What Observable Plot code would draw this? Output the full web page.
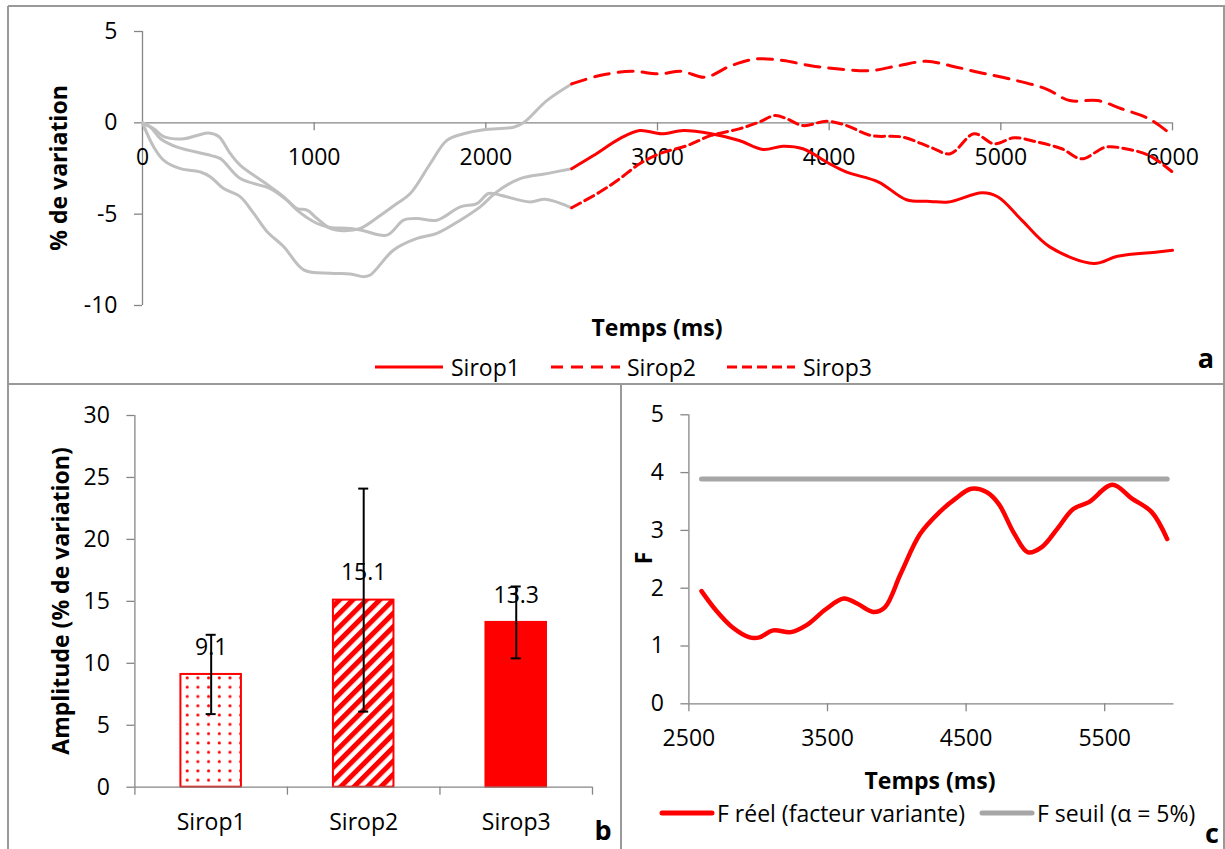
<!DOCTYPE html>
<html><head><meta charset="utf-8">
<script src="https://cdn.jsdelivr.net/npm/d3@7"></script>
<script src="https://cdn.jsdelivr.net/npm/@observablehq/plot@0.6"></script>
<style>
body{margin:0;background:#fff;}
#wrap{position:relative;width:1225px;height:849px;overflow:hidden;background:#fff;font-family:"Open Sans",sans-serif;color:#000;}
#wrap svg{position:absolute;overflow:visible;}
.t{position:absolute;white-space:nowrap;line-height:1;font-size:23px;}
.c{transform:translate(-50%,-50%);}
.l{transform:translate(0,-50%);}
.r{transform:translate(-50%,-50%) rotate(-90deg);}
.b{font-weight:bold;font-size:23px;}
.p{font-weight:bold;font-size:27px;}
</style></head><body><div id="wrap"></div>
<script>
// ---------- Panel a : % de variation vs Temps ----------
const aXTicks = [0, 1000, 2000, 3000, 4000, 5000, 6000];
const aYTicks = [5, 0, -5, -10];
const aSeries = ["Sirop1", "Sirop2", "Sirop3"];

const s1GreyT = [0, 66, 124, 221, 338, 396, 473, 570, 648, 726, 823, 939, 1094, 1211, 1288, 1327, 1463, 1599, 1715, 1851, 1967, 2064, 2200, 2355, 2500];
const s1GreyV = [0, -1.33, -2.05, -2.51, -2.69, -2.96, -3.6, -4.05, -4.96, -5.96, -6.78, -8.05, -8.24, -8.27, -8.42, -8.33, -6.96, -6.33, -6.05, -5.33, -4.6, -3.78, -3.05, -2.78, -2.51];
const s1RedT = [2500, 2627, 2783, 2896, 3023, 3151, 3313, 3476, 3615, 3731, 3847, 4002, 4102, 4288, 4450, 4589, 4694, 4891, 4984, 5123, 5285, 5541, 5680, 5912, 6000];
const s1RedV = [-2.51, -1.79, -0.85, -0.42, -0.6, -0.42, -0.6, -0.97, -1.46, -1.28, -1.42, -2.24, -2.7, -3.24, -4.21, -4.3, -4.34, -3.83, -4.06, -5.34, -6.79, -7.7, -7.3, -7.07, -6.98];

const s2GreyT = [0, 47, 105, 202, 396, 454, 570, 745, 842, 900, 958, 1017, 1094, 1172, 1269, 1346, 1482, 1560, 1676, 1773, 1870, 1987, 2161, 2219, 2355, 2500];
const s2GreyV = [0, -0.24, -0.87, -1.33, -1.78, -1.96, -3.05, -3.6, -4.24, -4.69, -4.78, -5.24, -5.78, -5.91, -5.78, -5.33, -4.42, -3.87, -2.24, -0.96, -0.6, -0.38, -0.24, 0, 1.22, 2.13];
const s2RedT = [2500, 2664, 2849, 3012, 3139, 3278, 3429, 3580, 3731, 3893, 4056, 4241, 4404, 4566, 4705, 4868, 5053, 5262, 5401, 5564, 5703, 5863, 6000];
const s2RedV = [2.13, 2.59, 2.82, 2.68, 2.82, 2.5, 3.13, 3.5, 3.41, 3.13, 2.95, 2.86, 3.13, 3.37, 3.13, 2.77, 2.4, 1.86, 1.22, 1.22, 0.77, 0.22, -0.69];

const s3GreyT = [0, 66, 124, 241, 318, 386, 444, 512, 570, 706, 823, 900, 1017, 1094, 1211, 1288, 1424, 1521, 1599, 1715, 1851, 1948, 2016, 2084, 2258, 2346, 2500];
const s3GreyV = [0, -0.33, -0.75, -0.87, -0.69, -0.56, -0.75, -1.69, -2.33, -3.24, -4.05, -4.78, -5.51, -5.73, -5.78, -5.91, -6.15, -5.33, -5.24, -5.33, -4.6, -4.42, -3.87, -3.96, -4.33, -4.18, -4.65];
const s3RedT = [2500, 2664, 2780, 2896, 3012, 3174, 3313, 3476, 3592, 3685, 3754, 3847, 3986, 4102, 4241, 4427, 4589, 4705, 4844, 4961, 5077, 5216, 5355, 5471, 5610, 5726, 5865, 6000];
const s3RedV = [-4.65, -3.79, -3.06, -2.24, -1.69, -1.24, -0.69, -0.33, 0.04, 0.4, 0.22, -0.15, 0.09, -0.15, -0.69, -0.78, -1.33, -1.69, -0.6, -1.15, -0.82, -1.06, -1.42, -1.97, -1.33, -1.42, -1.79, -2.7];

// ---------- Panel b : amplitude bars ----------
const bCategories = ["Sirop1", "Sirop2", "Sirop3"];
const bAmplitude = [9.1, 15.1, 13.3];
const bErrLow = [5.9, 6.1, 10.4];
const bErrHigh = [12.3, 24.1, 16.2];
const bLabels = ["9.1", "15.1", "13.3"];
const bYTicks = [0, 5, 10, 15, 20, 25, 30];

// ---------- Panel c : F statistic ----------
const cXTicks = [2500, 3500, 4500, 5500];
const cYTicks = [0, 1, 2, 3, 4, 5];
const cFT = [2591, 2698, 2811, 2939, 3009, 3108, 3236, 3349, 3490, 3617, 3717, 3830, 3914, 4028, 4169, 4310, 4424, 4537, 4650, 4735, 4848, 4947, 5046, 5159, 5273, 5386, 5556, 5697, 5838, 5951];
const cFV = [1.95, 1.61, 1.33, 1.15, 1.15, 1.27, 1.24, 1.36, 1.64, 1.82, 1.73, 1.59, 1.67, 2.25, 2.94, 3.32, 3.55, 3.72, 3.66, 3.46, 2.94, 2.62, 2.71, 3.03, 3.37, 3.49, 3.79, 3.55, 3.32, 2.85];
const cSeuilT = [2591, 5951];
const cSeuilV = [3.89, 3.89];
const cLegend = ["F réel (facteur variante)", "F seuil (α = 5%)"];

// ---------- styles ----------
const FONT = "'Open Sans', sans-serif";
const FS = 23;
const RED = "#ff0000", GREY = "#bfbfbf", AX = "#868686", THR = "#a6a6a6", BORDER = "#999999";
const barFills = ["url(#dotsB)", "url(#stripesB)", RED];

const rows = (T, V) => T.map((t, i) => ({t, v: V[i]}));
const wrap = document.getElementById("wrap");
const place = (el, left, top) => { el.style.left = left + "px"; el.style.top = top + "px"; wrap.appendChild(el); };

// ---------- Plot a ----------
const plotA = Plot.plot({
  width: 1225, height: 385,
  marginLeft: 142, marginRight: 53, marginTop: 31, marginBottom: 80,
  style: {fontFamily: FONT, fontSize: FS + "px", background: "transparent", color: "#000", overflow: "visible"},
  x: {domain: [0, 6000], axis: null},
  y: {domain: [-10, 5]},
  marks: [
    Plot.ruleX([0], {y1: -10, y2: 5, stroke: AX, strokeWidth: 1.3}),
    Plot.ruleY([0], {x1: 0, x2: 6000, stroke: AX, strokeWidth: 1.3}),
    Plot.ruleX(aXTicks, {x: d => d, y1: 0, y2: 0, insetBottom: -8, stroke: AX, strokeWidth: 1.3}),
    Plot.text(aXTicks, {x: d => d, y: 0, dy: 35, text: d => String(d), fontSize: FS}),
    Plot.axisY(aYTicks, {tickSize: 8, tickPadding: 17, stroke: AX, strokeWidth: 1.3, fontSize: FS, tickFormat: d => String(d), label: null}),
    Plot.line(rows(s1GreyT, s1GreyV), {x: "t", y: "v", stroke: GREY, strokeWidth: 3, curve: "catmull-rom"}),
    Plot.line(rows(s2GreyT, s2GreyV), {x: "t", y: "v", stroke: GREY, strokeWidth: 3, curve: "catmull-rom"}),
    Plot.line(rows(s3GreyT, s3GreyV), {x: "t", y: "v", stroke: GREY, strokeWidth: 3, curve: "catmull-rom"}),
    Plot.line(rows(s1RedT, s1RedV), {x: "t", y: "v", stroke: RED, strokeWidth: 3, curve: "catmull-rom"}),
    Plot.line(rows(s2RedT, s2RedV), {x: "t", y: "v", stroke: RED, strokeWidth: 3, curve: "catmull-rom", strokeDasharray: "15,9"}),
    Plot.line(rows(s3RedT, s3RedV), {x: "t", y: "v", stroke: RED, strokeWidth: 3, curve: "catmull-rom", strokeDasharray: "10,5"})
  ]
});
place(plotA, 0, 0);

// ---------- Plot b ----------
const bars = bCategories.map((c, i) => ({i, c, v: bAmplitude[i], lo: bErrLow[i], hi: bErrHigh[i], label: bLabels[i], fill: barFills[i]}));
const plotB = Plot.plot({
  width: 621, height: 464,
  marginLeft: 134.4, marginRight: 29, marginTop: 30, marginBottom: 62.3,
  style: {fontFamily: FONT, fontSize: FS + "px", background: "transparent", color: "#000", overflow: "visible"},
  x: {domain: [0, bCategories.length], axis: null},
  y: {domain: [0, 30]},
  color: {type: "identity"},
  marks: [
    Plot.rectY(bars, {x1: "i", x2: d => d.i + 1, y1: 0, y2: "v", insetLeft: 46, insetRight: 46, fill: "fill", stroke: RED, strokeWidth: 2}),
    Plot.ruleX([0], {y1: 0, y2: 30, stroke: AX, strokeWidth: 1.3}),
    Plot.ruleY([0], {x1: 0, x2: bCategories.length, stroke: AX, strokeWidth: 1.3}),
    Plot.ruleX(d3.range(bCategories.length + 1), {x: d => d, y1: 0, y2: 0, insetBottom: -8, stroke: AX, strokeWidth: 1.3}),
    Plot.text(bars, {x: d => d.i + 0.5, y: 0, dy: 35, text: "c", fontSize: FS}),
    Plot.axisY(bYTicks, {tickSize: 8, tickPadding: 17, stroke: AX, strokeWidth: 1.3, fontSize: FS, tickFormat: d => String(d), label: null}),
    Plot.text(bars, {x: d => d.i + 0.5, y: "v", dy: -27, text: "label", fontSize: FS}),
    Plot.ruleX(bars, {x: d => d.i + 0.5, y1: "lo", y2: "hi", stroke: "#000", strokeWidth: 2}),
    Plot.ruleY(bars, {y: "hi", x1: d => d.i + 0.5, x2: d => d.i + 0.5, insetLeft: -5, insetRight: -5, stroke: "#000", strokeWidth: 2}),
    Plot.ruleY(bars, {y: "lo", x1: d => d.i + 0.5, x2: d => d.i + 0.5, insetLeft: -5, insetRight: -5, stroke: "#000", strokeWidth: 2})
  ]
});
const defs = d3.select(plotB).insert("defs", ":first-child");
const pd = defs.append("pattern").attr("id", "dotsB").attr("patternUnits", "userSpaceOnUse").attr("width", 10.7).attr("height", 9.3);
pd.append("rect").attr("width", 10.7).attr("height", 9.3).attr("fill", "#fff");
pd.append("circle").attr("cx", 5.3).attr("cy", 4.6).attr("r", 1.5).attr("fill", RED);
const ps = defs.append("pattern").attr("id", "stripesB").attr("patternUnits", "userSpaceOnUse").attr("width", 9.5).attr("height", 9.5).attr("patternTransform", "rotate(45)");
ps.append("rect").attr("width", 9.5).attr("height", 9.5).attr("fill", "#fff");
ps.append("rect").attr("width", 5).attr("height", 9.5).attr("fill", RED);
place(plotB, 0, 385);

// ---------- Plot c ----------
const plotC = Plot.plot({
  width: 604, height: 464,
  marginLeft: 67.4, marginRight: 51.5, marginTop: 29.3, marginBottom: 145.7,
  style: {fontFamily: FONT, fontSize: FS + "px", background: "transparent", color: "#000", overflow: "visible"},
  x: {domain: [2500, 6000], axis: null},
  y: {domain: [0, 5]},
  marks: [
    Plot.ruleX([2500], {y1: 0, y2: 5, stroke: AX, strokeWidth: 1.3}),
    Plot.ruleY([0], {x1: 2500, x2: 6000, stroke: AX, strokeWidth: 1.3}),
    Plot.ruleX(cXTicks, {x: d => d, y1: 0, y2: 0, insetBottom: -8, stroke: AX, strokeWidth: 1.3}),
    Plot.text(cXTicks, {x: d => d, y: 0, dy: 35, text: d => String(d), fontSize: FS}),
    Plot.axisY(cYTicks, {tickSize: 8, tickPadding: 17, stroke: AX, strokeWidth: 1.3, fontSize: FS, tickFormat: d => String(d), label: null}),
    Plot.line(rows(cSeuilT, cSeuilV), {x: "t", y: "v", stroke: THR, strokeWidth: 5}),
    Plot.line(rows(cFT, cFV), {x: "t", y: "v", stroke: RED, strokeWidth: 4.5, curve: "catmull-rom"})
  ]
});
place(plotC, 621, 385);

// ---------- overlay: borders and legend swatches ----------
const ov = d3.create("svg").attr("width", 1225).attr("height", 849).style("left", "0px").style("top", "0px").style("pointer-events", "none");
const border = (x1, y1, x2, y2) => ov.append("line").attr("x1", x1).attr("y1", y1).attr("x2", x2).attr("y2", y2).attr("stroke", BORDER).attr("stroke-width", 2);
border(8, 6, 1225, 6);
border(8, 6, 8, 849);
border(1224, 6, 1224, 849);
border(8, 384, 1225, 384);
border(621, 384, 621, 849);
const swatch = (x1, x2, y, color, w, dash, cap) => ov.append("line").attr("x1", x1).attr("x2", x2).attr("y1", y).attr("y2", y)
  .attr("stroke", color).attr("stroke-width", w).attr("stroke-dasharray", dash).attr("stroke-linecap", cap || "butt");
swatch(375, 443, 367, RED, 3, null);
swatch(551, 620, 367, RED, 3, "12,8");
swatch(727, 795, 367, RED, 3, "10,5");
swatch(662, 712, 813, RED, 5, null, "round");
swatch(982, 1032, 813, THR, 5, null, "round");
wrap.appendChild(ov.node());

// ---------- text ----------
const txt = (s, x, y, cls) => { const d = document.createElement("div"); d.className = "t " + cls; d.textContent = s; place(d, x, y); };
txt("Temps (ms)", 657, 327, "c b");
txt("% de variation", 58, 168, "r b");
txt(aSeries[0], 451, 367, "l");
txt(aSeries[1], 627, 367, "l");
txt(aSeries[2], 803, 367, "l");
txt("a", 1206, 357, "c p");
txt("Amplitude (% de variation)", 60, 601, "r b");
txt("b", 603, 829, "c p");
txt("F", 643, 558, "r b");
txt("Temps (ms)", 930, 780, "c b");
txt(cLegend[0], 717, 813, "l");
txt(cLegend[1], 1037, 813, "l");
txt("c", 1212, 832, "c p");
</script></body></html>
